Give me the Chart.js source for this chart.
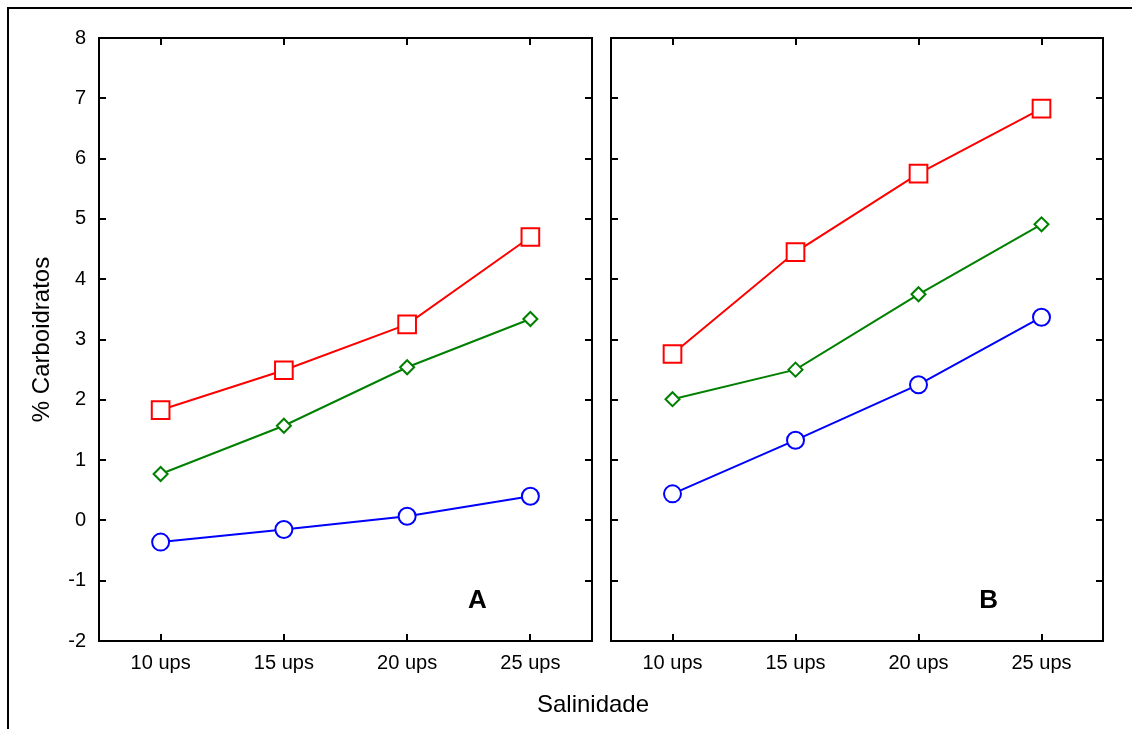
<!DOCTYPE html>
<html>
<head>
<meta charset="utf-8">
<script src="https://cdn.jsdelivr.net/npm/chart.js@4"></script>
<style>
  body { margin: 0; background: #fff; width: 1132px; height: 729px; position: relative; overflow: hidden; }
  canvas { position: absolute; top: 0; }
  #frame { position: absolute; left: 7px; top: 7px; width: 1130px; height: 730px;
           border-top: 2px solid #000; border-left: 2px solid #000; }
  #xTitle { position: absolute; left: 493px; width: 200px; top: 692px; text-align: center;
            font: 24px 'Liberation Sans', Arial, sans-serif; line-height: 24px; color: #000; }
</style>
</head>
<body>
<div id="frame"></div>
<canvas id="chartA" width="600" height="729" style="left:0"></canvas>
<canvas id="chartB" width="532" height="729" style="left:600px"></canvas>
<div id="xTitle">Salinidade</div>
<script>
// data
const categories = ['10 ups', '15 ups', '20 ups', '25 ups'];
const redA   = [1.83, 2.49, 3.25, 4.70];
const greenA = [0.77, 1.57, 2.54, 3.34];
const blueA  = [-0.36, -0.15, 0.07, 0.40];
const redB   = [2.76, 4.45, 5.75, 6.83];
const greenB = [2.01, 2.50, 3.75, 4.91];
const blueB  = [0.44, 1.33, 2.25, 3.37];
const yMin = -2, yMax = 8, yStep = 1;
const panelLabels = ['A', 'B'];

const FONT = "'Liberation Sans', Arial, sans-serif";
Chart.defaults.font.family = FONT;
Chart.defaults.color = '#000';

// box around the plot area + inward tick marks on all four sides
const frameTicks = {
  id: 'frameTicks',
  afterDraw(chart) {
    const { ctx, chartArea: a, scales } = chart;
    const len = 7;
    ctx.save();
    ctx.strokeStyle = '#000';
    ctx.lineWidth = 2;
    ctx.strokeRect(a.left, a.top, a.right - a.left, a.bottom - a.top);
    ctx.beginPath();
    scales.x.ticks.forEach((t, i) => {
      const px = Math.round(scales.x.getPixelForTick(i));
      ctx.moveTo(px, a.bottom); ctx.lineTo(px, a.bottom - len);
      ctx.moveTo(px, a.top); ctx.lineTo(px, a.top + len);
    });
    scales.y.ticks.forEach((t, i) => {
      const py = Math.round(scales.y.getPixelForTick(i));
      ctx.moveTo(a.left, py); ctx.lineTo(a.left + len, py);
      ctx.moveTo(a.right, py); ctx.lineTo(a.right - len, py);
    });
    ctx.stroke();
    ctx.restore();
  }
};

// the big bold panel letter
const panelLabel = {
  id: 'panelLabel',
  afterDraw(chart, args, opts) {
    const { ctx, scales } = chart;
    ctx.save();
    ctx.font = 'bold 26px ' + FONT;
    ctx.fillStyle = '#000';
    ctx.textAlign = 'center';
    ctx.textBaseline = 'middle';
    ctx.fillText(opts.text, scales.x.getPixelForValue(opts.x), scales.y.getPixelForValue(opts.y));
    ctx.restore();
  }
};

function series(data, color, style, radius) {
  return {
    data: data,
    borderColor: color,
    borderWidth: 2,
    pointStyle: style,
    pointRadius: radius,
    pointBorderWidth: 2,
    pointBorderColor: color,
    pointBackgroundColor: '#fff',
    tension: 0
  };
}

function makePanel(id, red, green, blue, label, showY, padding) {
  new Chart(document.getElementById(id), {
    type: 'line',
    data: {
      labels: categories,
      datasets: [
        series(red, '#ff0000', 'rect', 12.5),
        series(green, '#008000', 'rectRot', 7),
        series(blue, '#0000ff', 'circle', 8.5)
      ]
    },
    options: {
      responsive: false,
      animation: false,
      layout: { padding: padding, autoPadding: false },
      plugins: {
        legend: { display: false },
        tooltip: { enabled: false },
        panelLabel: { text: label, x: 2.57, y: -1.33 }
      },
      scales: {
        x: {
          offset: true,
          grid: { display: false, drawTicks: false },
          border: { display: false },
          ticks: { font: { size: 20 }, padding: 10, maxRotation: 0 },
          afterFit: (s) => { s.height = 88; }
        },
        y: {
          min: yMin, max: yMax,
          grid: { display: false, drawTicks: false },
          border: { display: false },
          ticks: { stepSize: yStep, display: showY, font: { size: 20 }, padding: 13 },
          title: {
            display: showY, text: '% Carboidratos',
            font: { size: 24 }, padding: { top: 28, bottom: 0 }
          },
          afterFit: (s) => { s.width = showY ? 99 : 0; }
        }
      }
    },
    plugins: [frameTicks, panelLabel]
  });
}

makePanel('chartA', redA, greenA, blueA, panelLabels[0], true,
  { left: 0, top: 38, right: 8, bottom: 0 });
makePanel('chartB', redB, greenB, blueB, panelLabels[1], false,
  { left: 11, top: 38, right: 29, bottom: 0 });
</script>
</body>
</html>
